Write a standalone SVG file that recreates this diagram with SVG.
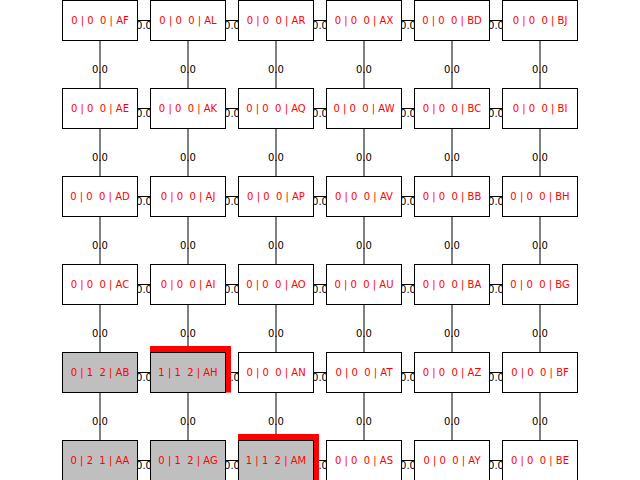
<svg xmlns="http://www.w3.org/2000/svg" width="640" height="480" viewBox="0 0 640 480">
<style>
.e{stroke:#000;stroke-width:1;fill:none}
.el{font-family:"DejaVu Sans",sans-serif;font-size:10px;fill:#000;text-anchor:middle}
.n rect{fill:#fff;stroke:#000;stroke-width:1}
.n.g rect{fill:#bfbfbf}
.n text{font-family:"DejaVu Sans",sans-serif;font-size:10px;fill:#ff0000;text-anchor:middle;white-space:pre}
.hl{fill:#ff0000}
</style>
<rect width="640" height="480" fill="#fff"/>
<g id="connectors">
<path class="e" d="M137.5 20.5H150.5M225.5 20.5H238.5M313.5 20.5H326.5M401.5 20.5H414.5M489.5 20.5H502.5
M137.5 108.5H150.5M225.5 108.5H238.5M313.5 108.5H326.5M401.5 108.5H414.5M489.5 108.5H502.5
M137.5 196.5H150.5M225.5 196.5H238.5M313.5 196.5H326.5M401.5 196.5H414.5M489.5 196.5H502.5
M137.5 284.5H150.5M225.5 284.5H238.5M313.5 284.5H326.5M401.5 284.5H414.5M489.5 284.5H502.5
M137.5 372.5H150.5M225.5 372.5H238.5M313.5 372.5H326.5M401.5 372.5H414.5M489.5 372.5H502.5
M137.5 460.5H150.5M225.5 460.5H238.5M313.5 460.5H326.5M401.5 460.5H414.5M489.5 460.5H502.5
M100 40.5V88.5M188 40.5V88.5M276 40.5V88.5M364 40.5V88.5M452 40.5V88.5M540 40.5V88.5
M100 128.5V176.5M188 128.5V176.5M276 128.5V176.5M364 128.5V176.5M452 128.5V176.5M540 128.5V176.5
M100 216.5V264.5M188 216.5V264.5M276 216.5V264.5M364 216.5V264.5M452 216.5V264.5M540 216.5V264.5
M100 304.5V352.5M188 304.5V352.5M276 304.5V352.5M364 304.5V352.5M452 304.5V352.5M540 304.5V352.5
M100 392.5V440.5M188 392.5V440.5M276 392.5V440.5M364 392.5V440.5M452 392.5V440.5M540 392.5V440.5"/>
<g class="el">
<text x="144" y="28.6">0.0</text><text x="232" y="28.6">0.0</text><text x="320" y="28.6">0.0</text><text x="408" y="28.6">0.0</text><text x="496" y="28.6">0.0</text>
<text x="144" y="116.6">0.0</text><text x="232" y="116.6">0.0</text><text x="320" y="116.6">0.0</text><text x="408" y="116.6">0.0</text><text x="496" y="116.6">0.0</text>
<text x="144" y="204.6">0.0</text><text x="232" y="204.6">0.0</text><text x="320" y="204.6">0.0</text><text x="408" y="204.6">0.0</text><text x="496" y="204.6">0.0</text>
<text x="144" y="292.6">0.0</text><text x="232" y="292.6">0.0</text><text x="320" y="292.6">0.0</text><text x="408" y="292.6">0.0</text><text x="496" y="292.6">0.0</text>
<text x="144" y="380.6">0.0</text><text x="232" y="380.6">0.0</text><text x="320" y="380.6">0.0</text><text x="408" y="380.6">0.0</text><text x="496" y="380.6">0.0</text>
<text x="144" y="468.6">0.0</text><text x="232" y="468.6">0.0</text><text x="320" y="468.6">0.0</text><text x="408" y="468.6">0.0</text><text x="496" y="468.6">0.0</text>
<text x="100" y="73.4">0.0</text><text x="188" y="73.4">0.0</text><text x="276" y="73.4">0.0</text><text x="364" y="73.4">0.0</text><text x="452" y="73.4">0.0</text><text x="540" y="73.4">0.0</text>
<text x="100" y="161.4">0.0</text><text x="188" y="161.4">0.0</text><text x="276" y="161.4">0.0</text><text x="364" y="161.4">0.0</text><text x="452" y="161.4">0.0</text><text x="540" y="161.4">0.0</text>
<text x="100" y="249.4">0.0</text><text x="188" y="249.4">0.0</text><text x="276" y="249.4">0.0</text><text x="364" y="249.4">0.0</text><text x="452" y="249.4">0.0</text><text x="540" y="249.4">0.0</text>
<text x="100" y="337.4">0.0</text><text x="188" y="337.4">0.0</text><text x="276" y="337.4">0.0</text><text x="364" y="337.4">0.0</text><text x="452" y="337.4">0.0</text><text x="540" y="337.4">0.0</text>
<text x="100" y="425.4">0.0</text><text x="188" y="425.4">0.0</text><text x="276" y="425.4">0.0</text><text x="364" y="425.4">0.0</text><text x="452" y="425.4">0.0</text><text x="540" y="425.4">0.0</text>
</g>
</g>
<rect class="hl" x="150" y="346" width="81" height="46.5"/>
<rect class="hl" x="238" y="434" width="81" height="47"/>
<g id="AF" class="n"><rect x="62.5" y="0.5" width="75" height="40"/><text x="100" y="24.1">0 | 0  0 | AF</text></g>
<g id="AE" class="n"><rect x="62.5" y="88.5" width="75" height="40"/><text x="100" y="112.1">0 | 0  0 | AE</text></g>
<g id="AD" class="n"><rect x="62.5" y="176.5" width="75" height="40"/><text x="100" y="200.1">0 | 0  0 | AD</text></g>
<g id="AC" class="n"><rect x="62.5" y="264.5" width="75" height="40"/><text x="100" y="288.1">0 | 0  0 | AC</text></g>
<g id="AB" class="n g"><rect x="62.5" y="352.5" width="75" height="40"/><text x="100" y="376.1">0 | 1  2 | AB</text></g>
<g id="AA" class="n g"><rect x="62.5" y="440.5" width="75" height="40"/><text x="100" y="464.1">0 | 2  1 | AA</text></g>
<g id="AL" class="n"><rect x="150.5" y="0.5" width="75" height="40"/><text x="188" y="24.1">0 | 0  0 | AL</text></g>
<g id="AK" class="n"><rect x="150.5" y="88.5" width="75" height="40"/><text x="188" y="112.1">0 | 0  0 | AK</text></g>
<g id="AJ" class="n"><rect x="150.5" y="176.5" width="75" height="40"/><text x="188" y="200.1">0 | 0  0 | AJ</text></g>
<g id="AI" class="n"><rect x="150.5" y="264.5" width="75" height="40"/><text x="188" y="288.1">0 | 0  0 | AI</text></g>
<g id="AH" class="n g"><rect x="150.5" y="352.5" width="75" height="40"/><text x="188" y="376.1">1 | 1  2 | AH</text></g>
<g id="AG" class="n g"><rect x="150.5" y="440.5" width="75" height="40"/><text x="188" y="464.1">0 | 1  2 | AG</text></g>
<g id="AR" class="n"><rect x="238.5" y="0.5" width="75" height="40"/><text x="276" y="24.1">0 | 0  0 | AR</text></g>
<g id="AQ" class="n"><rect x="238.5" y="88.5" width="75" height="40"/><text x="276" y="112.1">0 | 0  0 | AQ</text></g>
<g id="AP" class="n"><rect x="238.5" y="176.5" width="75" height="40"/><text x="276" y="200.1">0 | 0  0 | AP</text></g>
<g id="AO" class="n"><rect x="238.5" y="264.5" width="75" height="40"/><text x="276" y="288.1">0 | 0  0 | AO</text></g>
<g id="AN" class="n"><rect x="238.5" y="352.5" width="75" height="40"/><text x="276" y="376.1">0 | 0  0 | AN</text></g>
<g id="AM" class="n g"><rect x="238.5" y="440.5" width="75" height="40"/><text x="276" y="464.1">1 | 1  2 | AM</text></g>
<g id="AX" class="n"><rect x="326.5" y="0.5" width="75" height="40"/><text x="364" y="24.1">0 | 0  0 | AX</text></g>
<g id="AW" class="n"><rect x="326.5" y="88.5" width="75" height="40"/><text x="364" y="112.1">0 | 0  0 | AW</text></g>
<g id="AV" class="n"><rect x="326.5" y="176.5" width="75" height="40"/><text x="364" y="200.1">0 | 0  0 | AV</text></g>
<g id="AU" class="n"><rect x="326.5" y="264.5" width="75" height="40"/><text x="364" y="288.1">0 | 0  0 | AU</text></g>
<g id="AT" class="n"><rect x="326.5" y="352.5" width="75" height="40"/><text x="364" y="376.1">0 | 0  0 | AT</text></g>
<g id="AS" class="n"><rect x="326.5" y="440.5" width="75" height="40"/><text x="364" y="464.1">0 | 0  0 | AS</text></g>
<g id="BD" class="n"><rect x="414.5" y="0.5" width="75" height="40"/><text x="452" y="24.1">0 | 0  0 | BD</text></g>
<g id="BC" class="n"><rect x="414.5" y="88.5" width="75" height="40"/><text x="452" y="112.1">0 | 0  0 | BC</text></g>
<g id="BB" class="n"><rect x="414.5" y="176.5" width="75" height="40"/><text x="452" y="200.1">0 | 0  0 | BB</text></g>
<g id="BA" class="n"><rect x="414.5" y="264.5" width="75" height="40"/><text x="452" y="288.1">0 | 0  0 | BA</text></g>
<g id="AZ" class="n"><rect x="414.5" y="352.5" width="75" height="40"/><text x="452" y="376.1">0 | 0  0 | AZ</text></g>
<g id="AY" class="n"><rect x="414.5" y="440.5" width="75" height="40"/><text x="452" y="464.1">0 | 0  0 | AY</text></g>
<g id="BJ" class="n"><rect x="502.5" y="0.5" width="75" height="40"/><text x="540" y="24.1">0 | 0  0 | BJ</text></g>
<g id="BI" class="n"><rect x="502.5" y="88.5" width="75" height="40"/><text x="540" y="112.1">0 | 0  0 | BI</text></g>
<g id="BH" class="n"><rect x="502.5" y="176.5" width="75" height="40"/><text x="540" y="200.1">0 | 0  0 | BH</text></g>
<g id="BG" class="n"><rect x="502.5" y="264.5" width="75" height="40"/><text x="540" y="288.1">0 | 0  0 | BG</text></g>
<g id="BF" class="n"><rect x="502.5" y="352.5" width="75" height="40"/><text x="540" y="376.1">0 | 0  0 | BF</text></g>
<g id="BE" class="n"><rect x="502.5" y="440.5" width="75" height="40"/><text x="540" y="464.1">0 | 0  0 | BE</text></g>
</svg>
